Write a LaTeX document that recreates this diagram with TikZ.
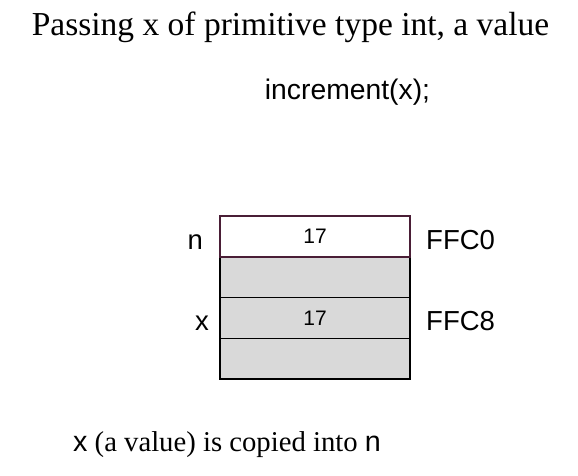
\documentclass[tikz,border=0pt]{standalone}
\usepackage{fontspec}
\setmainfont{Liberation Serif}
\newfontfamily\arialfont{Liberation Sans}
\usetikzlibrary{positioning}
\definecolor{slotgray}{HTML}{D9D9D9}
\definecolor{slotedge}{HTML}{4A1E36}

\begin{document}
\begin{tikzpicture}[x=1pt,y=-1pt]

\useasboundingbox (0,0) rectangle (578,476);

\tikzstyle{slot}=[draw,rectangle,line width={1.5pt},minimum width={190pt},minimum height={40.75pt},inner sep={0pt},outer sep={0pt},font={\arialfont\fontsize{21}{24}\selectfont}]
\tikzstyle{stacked}=[slot,fill={slotgray}]
\tikzstyle{varname}=[anchor={base east},inner sep={0pt},font={\arialfont\fontsize{27.5}{32}\selectfont}]
\tikzstyle{address}=[anchor={base west},inner sep={0pt},font={\arialfont\fontsize{27.5}{32}\selectfont}]

% headings

\node at (290.5,36) [anchor={base},inner sep={0pt},font={\fontsize{33.5}{38}\selectfont}] (T) {Passing x of primitive type int, a value} ;
\node at (347.5,100) [anchor={base},inner sep={0pt},font={\arialfont\fontsize{28.3}{32}\selectfont}] (Call) {increment(x);} ;

% stack: slots

\node [stacked] at (315,277.25) (S1) {} ;
\node [stacked,below=0pt of S1] (X) {17} ;
\node [stacked,below=0pt of X] (S3) {} ;
\node [slot,fill={white},draw={slotedge},above=0pt of S1] (N) {17} ;

% stack: names and addresses

\node at ([shift={(-17pt,-12.5pt)}] N.west) [varname] (LN) {n} ;
\node at ([shift={(-11pt,-12pt)}] X.west) [varname] (LX) {x} ;
\node at ([shift={(16pt,-12.5pt)}] N.east) [address] (AN) {FFC0} ;
\node at ([shift={(16pt,-12pt)}] X.east) [address] (AX) {FFC8} ;

% note

\node at (73,451) [anchor={base west},inner sep={0pt},font={\fontsize{28.7}{32}\selectfont}] (Note) {{\arialfont x} (a value) is copied into {\arialfont n}} ;

\end{tikzpicture}
\end{document}
